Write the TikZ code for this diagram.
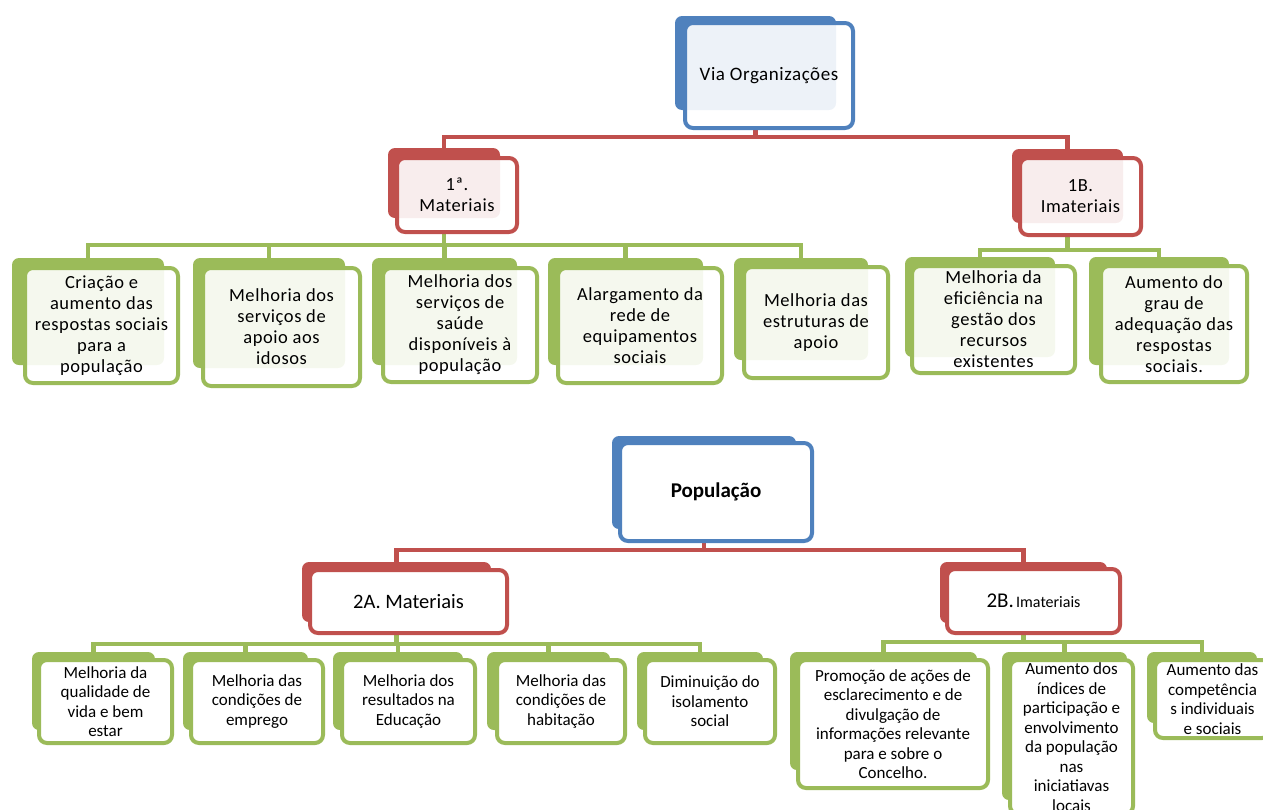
\documentclass[tikz,border=0pt]{standalone}
\usepackage{fontspec}
\setmainfont{Carlito}
\newfontfamily\topfont{Carlito}[LetterSpace=3]
\usetikzlibrary{backgrounds}
\definecolor{cblue}{HTML}{4F81BD}
\definecolor{cred}{HTML}{C0504D}
\definecolor{cgreen}{HTML}{9BBB59}
\tikzset{
  backbox/.style={fill=#1, draw=none, rounded corners=7pt, inner sep=0pt},
  frontbox/.style={draw=#1, line width=4pt, fill=white, rounded corners=8pt, inner sep=0pt, align=center, text=black},
  tfront/.style={frontbox=#1, fill opacity=0.9, text opacity=1},
  sz/.style 2 args={minimum width=#1pt, minimum height=#2pt},
  link/.style={draw=#1, line width=4.5pt},
  topfs/.style={font=\topfont\fontsize{18.5}{21}\selectfont},
  botfs/.style={font=\fontsize{17}{19.5}\selectfont},
}
\begin{document}
\begin{tikzpicture}[x=1pt,y=-1pt]
\path[use as bounding box, clip] (0,0) rectangle (1263,809);
% ---------- top: Via Organizacoes ----------
\node[backbox=cblue, sz={161}{94}] (viaB) at (755.5,63) {};
\node[tfront=cblue, sz={168}{105}, font=\topfont\fontsize{19}{22}\selectfont] (via) at (769,75.5) {Via Organizações};
\node[backbox=cred, sz={112}{70}] (m1B) at (444,183) {};
\node[tfront=cred, sz={120}{74}, topfs] (m1) at (457,195) {1ª.\\Materiais};
\node[backbox=cred, sz={111}{74}] (i1B) at (1067.5,186) {};
\node[tfront=cred, sz={121}{77}, topfs] (i1) at (1080.5,196.5) {1B.\\Imateriais};

\node[backbox=cgreen, sz={152}{107}] (c1B) at (88,311.5) {};
\node[tfront=cgreen, sz={153}{115}, topfs] (c1) at (101.5,325.5) {Criação e\\aumento das\\respostas sociais\\para a\\população};
\node[backbox=cgreen, sz={152}{110}] (c2B) at (269,313) {};
\node[tfront=cgreen, sz={157}{118}, topfs] (c2) at (281.5,327) {Melhoria dos\\serviços de\\apoio aos\\idosos};
\node[backbox=cgreen, sz={145}{107}] (c3B) at (444.5,311.5) {};
\node[tfront=cgreen, sz={154}{114}, topfs] (c3) at (460,325) {Melhoria dos\\serviços de\\saúde\\disponíveis à\\população};
\node[backbox=cgreen, sz={155}{107}] (c4B) at (625.5,311.5) {};
\node[tfront=cgreen, sz={164}{115}, topfs] (c4) at (640,325.5) {Alargamento da\\rede de\\equipamentos\\sociais};
\node[backbox=cgreen, sz={134}{102}] (c5B) at (801,309) {};
\node[tfront=cgreen, sz={144}{111}, topfs] (c5) at (816,322.5) {Melhoria das\\estruturas de\\apoio};
\node[backbox=cgreen, sz={150}{100}] (c6B) at (980,307) {};
\node[tfront=cgreen, sz={163}{107}, topfs] (c6) at (993.5,319.5) {Melhoria da\\eficiência na\\gestão dos\\recursos\\existentes};
\node[backbox=cgreen, sz={140}{108}] (c7B) at (1159,311) {};
\node[tfront=cgreen, sz={146}{116}, topfs] (c7) at (1174,324) {Aumento do\\grau de\\adequação das\\respostas\\sociais.};

% ---------- bottom: Populacao ----------
\node[backbox=cblue, sz={184}{93}] (popB) at (704,482.5) {};
\node[frontbox=cblue, sz={192}{98}, font=\bfseries\fontsize{21}{24}\selectfont] (pop) at (716,492) {População};
\node[backbox=cred, sz={189}{60}] (aB) at (396.5,592) {};
\node[frontbox=cred, sz={197}{63}, font=\fontsize{20.5}{24}\selectfont] (a) at (408.5,601.5) {2A. Materiais};
\node[backbox=cred, sz={167}{61}] (bB) at (1023.5,592.5) {};
\node[frontbox=cred, sz={173}{64}] (b) at (1033.5,601) {{\fontsize{21}{24}\selectfont 2B.} {\fontsize{16}{19}\selectfont Imateriais}};

\node[backbox=cgreen, sz={123}{78}] (d1B) at (93.5,691) {};
\node[frontbox=cgreen, sz={133}{83}, botfs] (d1) at (105.5,701.5) {Melhoria da\\qualidade de\\vida e bem\\estar};
\node[backbox=cgreen, sz={125}{78}] (d2B) at (245.5,691) {};
\node[frontbox=cgreen, sz={132}{83}, botfs] (d2) at (257,701.5) {Melhoria das\\condições de\\emprego};
\node[backbox=cgreen, sz={130}{78}] (d3B) at (398,691) {};
\node[frontbox=cgreen, sz={133}{83}, botfs] (d3) at (408.5,701.5) {Melhoria dos\\resultados na\\Educação};
\node[backbox=cgreen, sz={123}{78}] (d4B) at (548.5,691) {};
\node[frontbox=cgreen, sz={128}{83}, botfs] (d4) at (561,701.5) {Melhoria das\\condições de\\habitação};
\node[backbox=cgreen, sz={126}{78}] (d5B) at (700,691) {};
\node[frontbox=cgreen, sz={130}{83}, botfs] (d5) at (710,701.5) {Diminuição do\\isolamento\\social};

\node[backbox=cgreen, sz={187}{118}] (e1B) at (883.5,711) {};
\node[frontbox=cgreen, sz={190}{128}, botfs] (e1) at (893,724) {Promoção de ações de\\esclarecimento e de\\divulgação de\\informações relevante\\para e sobre o\\Concelho.};
\node[backbox=cgreen, sz={125}{148}] (e2B) at (1064.5,726) {};
\node[frontbox=cgreen, sz={123}{154}, botfs] (e2) at (1071.5,737) {Aumento dos\\índices de\\participação e\\envolvimento\\da população\\nas\\iniciatiavas\\locais};
\node[backbox=cgreen, sz={110}{71}] (e3B) at (1202,687.5) {};
\node[frontbox=cgreen, sz={115}{78}, botfs] (e3) at (1212.5,699) {Aumento das\\competência\\s individuais\\e sociais};

% ---------- connectors ----------
\begin{scope}[on background layer]
\foreach \k in {m1B,i1B} \draw[link=cred] (viaB.south |- via.south) -- ++(0,7) -| (\k.north);
\foreach \k in {c1B,c2B,c3B,c4B,c5B} \draw[link=cgreen] (m1B.south |- m1.south) -- ++(0,11) -| (\k.north);
\foreach \k in {c6B,c7B} \draw[link=cgreen] (i1B.south |- i1.south) -- ++(0,13) -| (\k.north);
\foreach \k in {aB,bB} \draw[link=cred] (popB.south |- pop.south) -- ++(0,7) -| (\k.north);
\foreach \k in {d1B,d2B,d3B,d4B,d5B} \draw[link=cgreen] (aB.south |- a.south) -- ++(0,9) -| (\k.north);
\foreach \k in {e1B,e2B,e3B} \draw[link=cgreen] (bB.south |- b.south) -- ++(0,7) -| (\k.north);
\end{scope}
\end{tikzpicture}
\end{document}
